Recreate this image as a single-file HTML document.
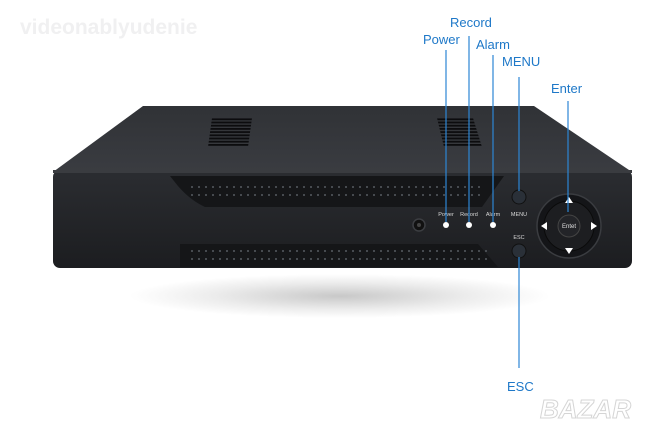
<!DOCTYPE html>
<html><head><meta charset="utf-8"><style>
html,body{margin:0;padding:0;background:#fff;width:651px;height:433px;overflow:hidden}
svg{display:block}
</style></head><body>
<svg width="651" height="433" viewBox="0 0 651 433" xmlns="http://www.w3.org/2000/svg" font-family="Liberation Sans, sans-serif">
<defs>
<radialGradient id="sh" cx="50%" cy="50%" r="50%"><stop offset="0" stop-color="#c8c8c8"/><stop offset="0.6" stop-color="#ececec"/><stop offset="1" stop-color="#fff"/></radialGradient>
<linearGradient id="top" x1="0" y1="0" x2="0" y2="1"><stop offset="0" stop-color="#303236"/><stop offset="1" stop-color="#3a3c41"/></linearGradient>
<linearGradient id="front" x1="0" y1="0" x2="0" y2="1"><stop offset="0" stop-color="#2b2d31"/><stop offset="1" stop-color="#1c1d20"/></linearGradient>
<pattern id="dots" width="7" height="8" patternUnits="userSpaceOnUse"><circle cx="3" cy="3" r="1" fill="#555a60"/></pattern>
<pattern id="vent" width="4" height="3.2" patternUnits="userSpaceOnUse"><rect width="4" height="1.8" fill="#0c0c0e"/></pattern>
</defs>
<text x="20" y="34" font-size="21" font-weight="bold" fill="#f0f0f1">videonablyudenie</text>
<ellipse cx="340" cy="296" rx="210" ry="22" fill="url(#sh)"/>
<polygon points="53,172 143,106 534,106 632,172" fill="url(#top)"/>
<polygon points="212,118 252,118 248,147 208,147" fill="url(#vent)"/>
<polygon points="437,118 473,118 482,147 444,147" fill="url(#vent)"/>
<rect x="53" y="170" width="579" height="98" rx="7" fill="url(#front)"/>
<rect x="53" y="170" width="579" height="3" fill="#3a3c40"/>
<path d="M170,176 L504,176 L482,207 L205,207 Q190,200 178,186 Z" fill="#151618"/>
<rect x="190" y="183" width="290" height="16" fill="url(#dots)"/>
<path d="M180,244 L478,244 L498,267 L180,267 Z" fill="#151618"/>
<rect x="190" y="246" width="300" height="16" fill="url(#dots)"/>
<circle cx="419" cy="225" r="6" fill="#111" stroke="#3c3e42" stroke-width="1.5"/>
<circle cx="419" cy="225" r="2" fill="#444"/>
<g font-size="5.5" fill="#d8d8d8" text-anchor="middle">
<text x="446" y="216">Power</text><text x="469" y="216">Record</text><text x="493" y="216">Alarm</text>
<text x="519" y="216">MENU</text><text x="519" y="239">ESC</text>
</g>
<circle cx="446" cy="225" r="3" fill="#fff"/><circle cx="469" cy="225" r="3" fill="#fff"/><circle cx="493" cy="225" r="3" fill="#fff"/>
<circle cx="519" cy="197" r="7" fill="#2a3038" stroke="#111" stroke-width="1"/>
<circle cx="519" cy="251" r="7" fill="#2a3038" stroke="#111" stroke-width="1"/>
<circle cx="569" cy="226" r="32" fill="#141518" stroke="#3a3c40" stroke-width="1.5"/>
<circle cx="569" cy="226" r="25" fill="#1d1e21" stroke="#0a0a0a" stroke-width="1"/>
<circle cx="569" cy="226" r="11" fill="#232428" stroke="#444" stroke-width="1"/>
<text x="569" y="228" font-size="6" fill="#e0e0e0" text-anchor="middle">Entet</text>
<polygon points="569,197 565,203 573,203" fill="#fff"/>
<polygon points="569,254 565,248 573,248" fill="#fff"/>
<polygon points="541,226 547,222 547,230" fill="#fff"/>
<polygon points="597,226 591,222 591,230" fill="#fff"/>
<g stroke="#2d86d4" stroke-width="1.2">
<line x1="446" y1="50" x2="446" y2="222"/>
<line x1="469" y1="36" x2="469" y2="222"/>
<line x1="493" y1="55" x2="493" y2="222"/>
<line x1="519" y1="77" x2="519" y2="191"/>
<line x1="568" y1="101" x2="568" y2="212"/>
<line x1="519" y1="257" x2="519" y2="368"/>
</g>
<g font-size="13" fill="#1e78c8">
<text x="450" y="27">Record</text>
<text x="423" y="44">Power</text>
<text x="476" y="49">Alarm</text>
<text x="502" y="66">MENU</text>
<text x="551" y="93">Enter</text>
<text x="507" y="391">ESC</text>
</g>
<text x="540" y="418" font-size="26" font-weight="bold" fill="#fff" stroke="#d5d5d5" stroke-width="1" font-style="italic">BAZAR</text>
</svg>
</body></html>
